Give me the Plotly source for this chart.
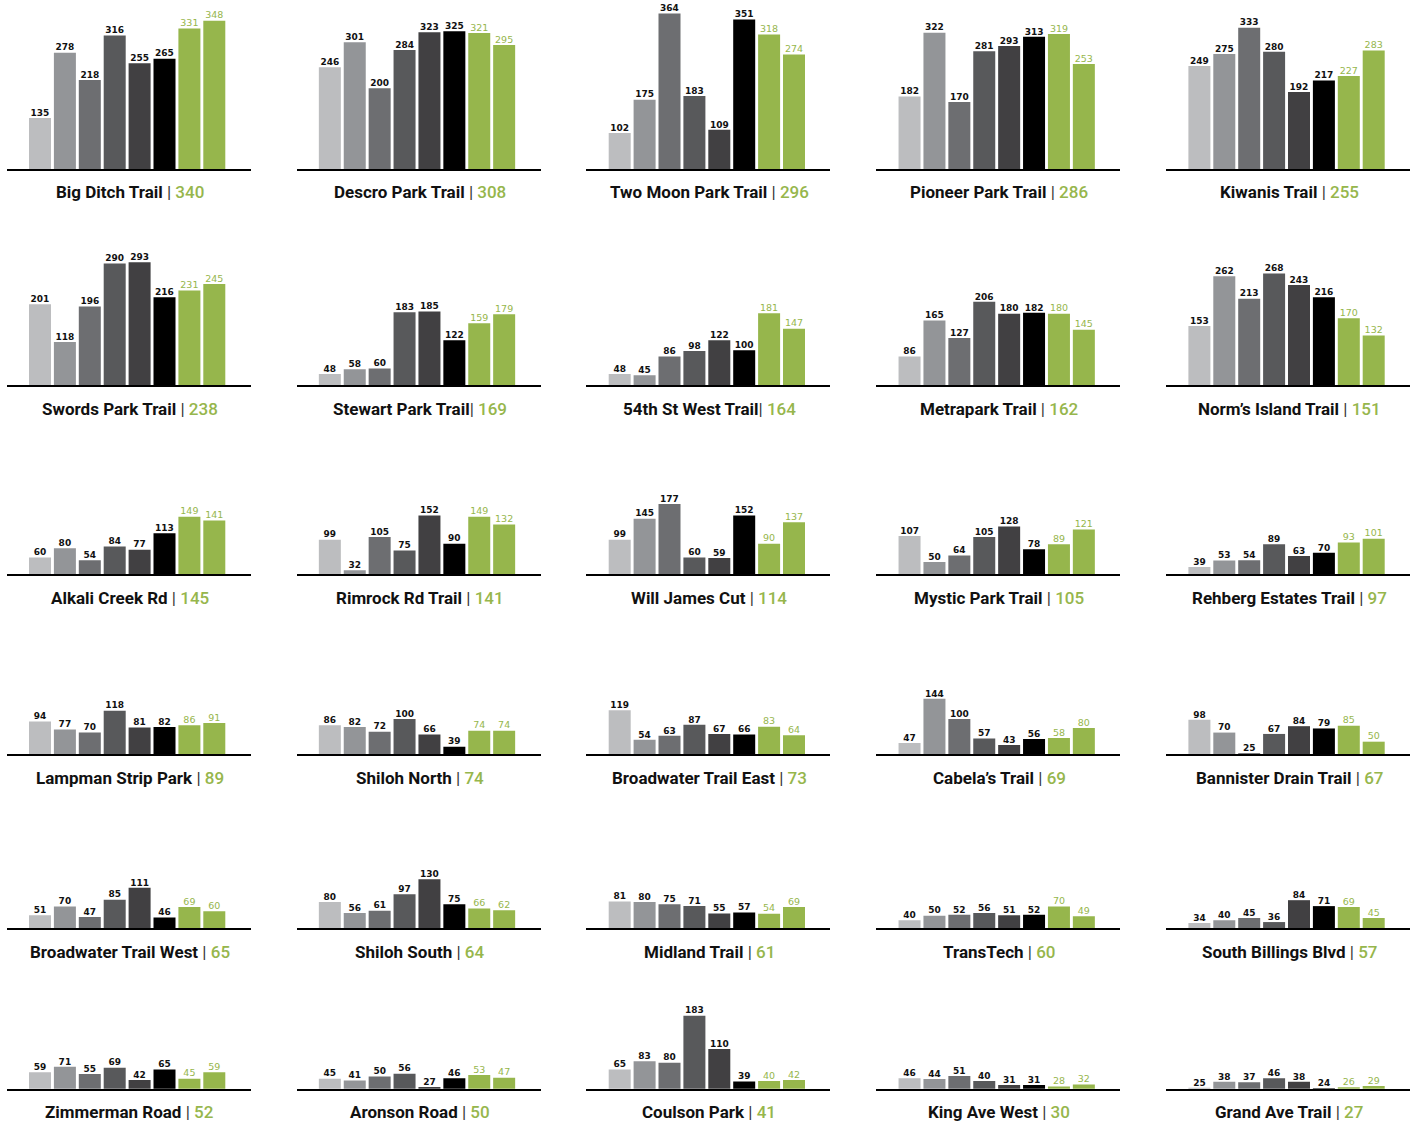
import plotly.graph_objects as go

W, H = 1421, 1130

names = [
    "Big Ditch Trail", "Descro Park Trail", "Two Moon Park Trail", "Pioneer Park Trail", "Kiwanis Trail",
    "Swords Park Trail", "Stewart Park Trail", "54th St West Trail", "Metrapark Trail", "Norm’s Island Trail",
    "Alkali Creek Rd", "Rimrock Rd Trail", "Will James Cut", "Mystic Park Trail", "Rehberg Estates Trail",
    "Lampman Strip Park", "Shiloh North", "Broadwater Trail East", "Cabela’s Trail", "Bannister Drain Trail",
    "Broadwater Trail West", "Shiloh South", "Midland Trail", "TransTech", "South Billings Blvd",
    "Zimmerman Road", "Aronson Road", "Coulson Park", "King Ave West", "Grand Ave Trail",
]
no_space_sep = {"Stewart Park Trail", "54th St West Trail"}

totals = [340, 308, 296, 286, 255,
          238, 169, 164, 162, 151,
          145, 141, 114, 105, 97,
          89, 74, 73, 69, 67,
          65, 64, 61, 60, 57,
          52, 50, 41, 30, 27]

values = [
    [135, 278, 218, 316, 255, 265, 331, 348],
    [246, 301, 200, 284, 323, 325, 321, 295],
    [102, 175, 364, 183, 109, 351, 318, 274],
    [182, 322, 170, 281, 293, 313, 319, 253],
    [249, 275, 333, 280, 192, 217, 227, 283],
    [201, 118, 196, 290, 293, 216, 231, 245],
    [48, 58, 60, 183, 185, 122, 159, 179],
    [48, 45, 86, 98, 122, 100, 181, 147],
    [86, 165, 127, 206, 180, 182, 180, 145],
    [153, 262, 213, 268, 243, 216, 170, 132],
    [60, 80, 54, 84, 77, 113, 149, 141],
    [99, 32, 105, 75, 152, 90, 149, 132],
    [99, 145, 177, 60, 59, 152, 90, 137],
    [107, 50, 64, 105, 128, 78, 89, 121],
    [39, 53, 54, 89, 63, 70, 93, 101],
    [94, 77, 70, 118, 81, 82, 86, 91],
    [86, 82, 72, 100, 66, 39, 74, 74],
    [119, 54, 63, 87, 67, 66, 83, 64],
    [47, 144, 100, 57, 43, 56, 58, 80],
    [98, 70, 25, 67, 84, 79, 85, 50],
    [51, 70, 47, 85, 111, 46, 69, 60],
    [80, 56, 61, 97, 130, 75, 66, 62],
    [81, 80, 75, 71, 55, 57, 54, 69],
    [40, 50, 52, 56, 51, 52, 70, 49],
    [34, 40, 45, 36, 84, 71, 69, 45],
    [59, 71, 55, 69, 42, 65, 45, 59],
    [45, 41, 50, 56, 27, 46, 53, 47],
    [65, 83, 80, 183, 110, 39, 40, 42],
    [46, 44, 51, 40, 31, 31, 28, 32],
    [25, 38, 37, 46, 38, 24, 26, 29],
]

gray_colors = ["#bcbdbf", "#939598", "#6d6e71", "#58595b", "#414042", "#000000"]
GREEN = "#96b64c"

# layout geometry (pixels)
COL_X0 = 6.7
COL_PITCH = 289.85
AXIS_LEN = 244.0
ROW_BASE = [169.0, 385.3, 574.3, 754.0, 928.0, 1088.7]
SCALE = 0.456      # px per unit
YBASE = 23         # value at the baseline
BAR_PITCH = 24.9
FIRST_CENTER = 33.3
BAR_W = 22.0 / BAR_PITCH

x_lo = -FIRST_CENTER / BAR_PITCH
x_hi = (AXIS_LEN - FIRST_CENTER) / BAR_PITCH

fig = go.Figure()
annotations = []

for i, (name, total, vals) in enumerate(zip(names, totals, values)):
    r, c = divmod(i, 5)
    k = "" if i == 0 else str(i + 1)
    x0 = COL_X0 + c * COL_PITCH
    base = ROW_BASE[r]
    hpx = base if r == 0 else 165.0
    xd = [x0 / W, (x0 + AXIS_LEN) / W]
    yd = [(H - base) / H, min(1.0, (H - base + hpx) / H)]
    xs = list(range(8))

    fig.add_trace(go.Bar(
        x=xs[:6], y=vals[:6], width=BAR_W,
        marker=dict(color=gray_colors, line=dict(width=0)),
        xaxis="x" + k, yaxis="y" + k, showlegend=False, hoverinfo="skip",
    ))
    fig.add_trace(go.Bar(
        x=xs[6:], y=vals[6:], width=BAR_W,
        marker=dict(color=GREEN, line=dict(width=0)),
        xaxis="x" + k, yaxis="y" + k, showlegend=False, hoverinfo="skip",
    ))
    fig.add_trace(go.Scatter(
        x=xs[:6], y=vals[:6], mode="text", text=[str(v) for v in vals[:6]],
        textposition="top center",
        textfont=dict(family="DejaVu Sans", size=9, color="#111111", weight="bold"),
        cliponaxis=False, xaxis="x" + k, yaxis="y" + k, showlegend=False, hoverinfo="skip",
    ))
    fig.add_trace(go.Scatter(
        x=xs[6:], y=vals[6:], mode="text", text=[str(v) for v in vals[6:]],
        textposition="top center",
        textfont=dict(family="DejaVu Sans", size=9.5, color=GREEN),
        cliponaxis=False, xaxis="x" + k, yaxis="y" + k, showlegend=False, hoverinfo="skip",
    ))

    fig.update_layout(**{
        "xaxis" + k: dict(domain=xd, range=[x_lo, x_hi], showgrid=False, zeroline=False,
                          showticklabels=False, ticks="", showline=True, linecolor="#000000",
                          linewidth=2, fixedrange=True, anchor="y" + k),
        "yaxis" + k: dict(domain=yd, range=[YBASE, YBASE + hpx / SCALE], visible=False,
                          fixedrange=True, anchor="x" + k),
    })

    sep = "|" if name in no_space_sep else " |"
    title = (f"<b>{name}</b><span style='color:#333333'>{sep} </span>"
             f"<span style='color:{GREEN};font-weight:500'>{total}</span>")
    annotations.append(dict(
        text=title, xref="paper", yref="paper",
        x=(x0 + AXIS_LEN / 2 + 1) / W, y=(H - (base + 23.5)) / H,
        xanchor="center", yanchor="middle", showarrow=False,
        font=dict(family="Roboto", size=17, color="#111111"),
    ))

fig.update_layout(
    width=W, height=H, margin=dict(l=0, r=0, t=0, b=0),
    paper_bgcolor="white", plot_bgcolor="rgba(0,0,0,0)",
    barmode="overlay", annotations=annotations,
)

fig.write_html("out.html")
